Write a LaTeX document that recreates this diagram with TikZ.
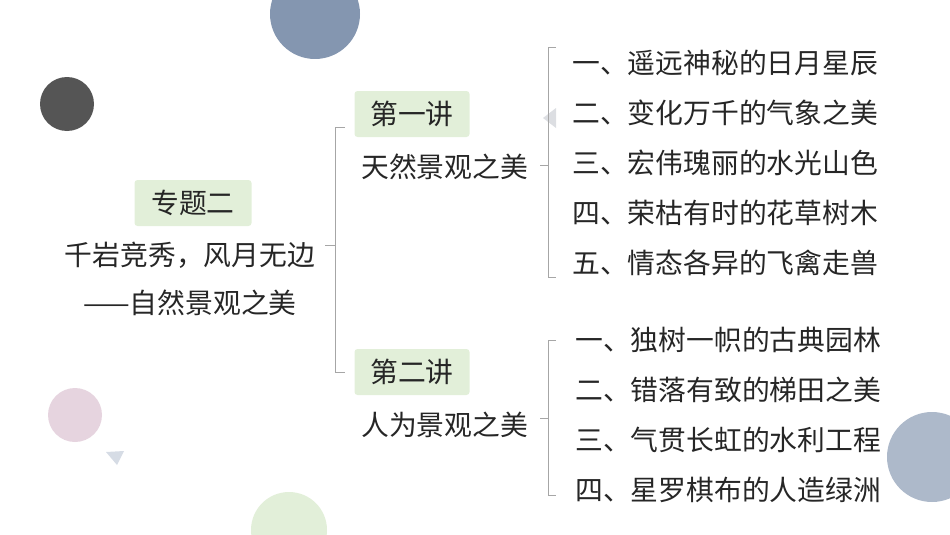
\documentclass[tikz,border=0pt]{standalone}
\usepackage{fontspec}
\setmainfont{Noto Sans CJK SC}
\begin{document}
\begin{tikzpicture}[x=1pt,y=-1pt,
  txt/.style={font=\fontsize{27.8}{30}\selectfont, text=black!85, inner sep=0pt},
  gbox/.style={txt, fill=gboxc, rounded corners=3pt, minimum height=46pt, minimum width=115pt},
  br/.style={draw=gray!70, line width=0.9pt}]
\definecolor{gboxc}{HTML}{E2EFD9}
\path[use as bounding box] (0,0) rectangle (950,535);
\begin{scope}
\clip (0,0) rectangle (950,535);
\fill[fill={rgb,255:red,132;green,150;blue,176}] (315,14) circle (45);
\fill[fill={rgb,255:red,85;green,85;blue,85}] (67,104) circle (27);
\fill[fill={rgb,255:red,230;green,212;blue,223}] (75,415) circle (27);
\fill[fill={rgb,255:red,226;green,239;blue,217}] (289,530) circle (38);
\fill[fill={rgb,255:red,173;green,185;blue,202}] (932,457) circle (45);
\fill[fill={rgb,255:red,214;green,220;blue,229}] (106,452) -- (124,451) -- (117,465) -- cycle;
\fill[fill={rgb,255:red,220;green,222;blue,226}] (543,118) -- (556,108) -- (556,128) -- cycle;
\end{scope}
\node[gbox, minimum width=117pt] (t0) at (193,203) {专题二};
\node[txt] (t1) at (190,255) {千岩竞秀，风月无边};
\node[txt] (t2) at (190,303) {——自然景观之美};
\node[gbox] (l1) at (412,114) {第一讲};
\node[txt, anchor=west] (l1t) at (361,167) {天然景观之美};
\node[gbox] (l2) at (412,372) {第二讲};
\node[txt, anchor=west] (l2t) at (361,425) {人为景观之美};
\foreach \i/\t/\y in {a/一、遥远神秘的日月星辰/63, b/二、变化万千的气象之美/113, c/三、宏伟瑰丽的水光山色/163, d/四、荣枯有时的花草树木/213, e/五、情态各异的飞禽走兽/263}
  \node[txt, anchor=west] (\i) at (572,\y) {\t};
\foreach \i/\t/\y in {f/一、独树一帜的古典园林/340, g/二、错落有致的梯田之美/390, h/三、气贯长虹的水利工程/440, k/四、星罗棋布的人造绿洲/490}
  \node[txt, anchor=west] (\i) at (575,\y) {\t};
\coordinate (b1) at (325,245);
\draw[br] (b1) -- (335,245) (345,127) -- (335,127) -- (335,372) -- (345,372);
\coordinate (b2) at (540,165);
\draw[br] (b2) -- (548,165) (556,47) -- (548,47) -- (548,277) -- (556,277);
\coordinate (b3) at (540,418);
\draw[br] (b3) -- (548,418) (556,340) -- (548,340) -- (548,495) -- (556,495);
\end{tikzpicture}
\end{document}
